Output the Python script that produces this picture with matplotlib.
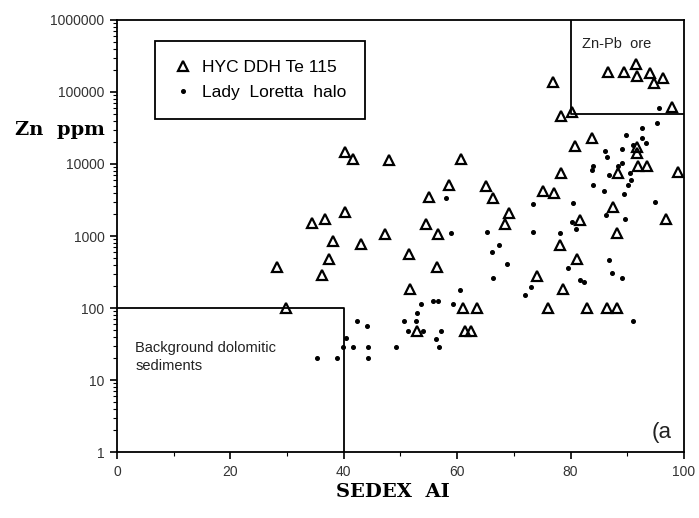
import matplotlib
matplotlib.use('Agg')
import matplotlib.pyplot as plt
from matplotlib.ticker import FixedLocator, LogLocator, NullFormatter

# HYC DDH Te 115 (open triangles)
hyc_ai = [28.2, 29.8, 34.4, 36.7, 36.2, 37.4, 38.1, 40.2, 40.2, 41.6,
          43.0, 47.3, 48.0, 51.5, 51.7, 52.9, 54.5, 55.0, 56.6, 56.4,
          58.6, 60.7, 61.0, 61.4, 62.4, 63.5, 65.1, 66.3, 69.1, 68.4,
          74.1, 75.1, 77.1, 76.0, 76.9, 78.3, 80.2, 80.8, 83.8, 78.3,
          78.7, 78.2, 81.1, 81.7, 82.9, 86.4, 88.2, 87.5, 88.2, 96.8,
          98.9, 86.6, 89.4, 91.5, 91.7, 94.0, 94.7, 96.3, 97.9, 91.7,
          91.7, 91.9, 93.5, 88.4]
hyc_zn = [370, 100, 1520, 1720, 290, 480, 850, 2150, 14700, 11700,
          775, 1070, 11400, 560, 184, 48, 1470, 3480, 1070, 371,
          5100, 11700, 100, 48, 48, 100, 4950, 3400, 2080, 1470,
          278, 4200, 3950, 100, 138000, 47000, 52000, 17800, 23000, 7500,
          184, 750, 480, 1670, 100, 100, 100, 2530, 1100, 1720,
          7750, 190000, 190000, 245000, 167000, 184000, 133000, 157000, 62000, 17200,
          14000, 9400, 9400, 7500]

# Lady Loretta halo (dots)
ll_ai = [42.3, 44.1, 40.4, 39.9, 41.6, 44.3, 49.2, 35.3, 38.8, 44.3,
         50.6, 51.3, 52.7, 54.0, 53.6, 55.7, 56.6, 59.3, 52.9, 56.3,
         56.8, 57.1, 60.5, 66.1, 68.8, 66.3, 73.0, 72.0, 79.5, 81.7,
         82.4, 86.8, 87.3, 89.1, 91.0, 58.0, 58.9, 65.3, 67.4, 73.4,
         73.4, 78.1, 80.4, 80.2, 81.0, 83.9, 85.9, 89.4, 90.1, 86.2,
         89.6, 94.9, 95.6, 92.6, 95.2, 89.8, 92.6, 93.3, 86.1, 86.4,
         89.1, 91.0, 89.1, 88.4, 84.0, 83.8, 86.8, 90.5, 90.7]
ll_zn = [66, 56, 38, 29, 29, 29, 29, 20, 20, 20,
         66, 48, 66, 48, 114, 125, 125, 114, 85, 37,
         29, 48, 178, 590, 410, 261, 196, 152, 360, 245,
         230, 464, 306, 261, 66, 3370, 1100, 1140, 750, 2780,
         1140, 1100, 2870, 1560, 1250, 5100, 4200, 3800, 5100, 1960,
         1720, 3000, 60000, 31600, 37000, 25300, 23000, 19600, 15200, 12500,
         16200, 18400, 10300, 9400, 9400, 8250, 7000, 7500, 6000]

# field boundaries
bg_x = [0, 40, 40]
bg_y = [100, 100, 1]
ore_x = [80, 80, 100]
ore_y = [1000000, 50000, 50000]

y_ticks = [1, 10, 100, 1000, 10000, 100000, 1000000]
x_ticks = [0, 20, 40, 60, 80, 100]

fig = plt.figure(figsize=(6.99, 5.18), dpi=100)
ax = fig.add_axes([0.1674, 0.1274, 0.8111, 0.834])

ax.plot(bg_x, bg_y, color='black', lw=1.3, zorder=2)
ax.plot(ore_x, ore_y, color='black', lw=1.3, zorder=2)

ax.plot(hyc_ai, hyc_zn, linestyle='none', marker='^', markersize=7,
        markerfacecolor='none', markeredgecolor='black', markeredgewidth=1.6,
        label='HYC DDH Te 115', zorder=3)
ax.plot(ll_ai, ll_zn, linestyle='none', marker='o', markersize=2.6,
        color='black', label='Lady  Loretta  halo', zorder=3)

ax.set_yscale('log')
ax.set_xlim(0, 100)
ax.set_ylim(1, 1000000)
ax.xaxis.set_major_locator(FixedLocator(x_ticks))
ax.xaxis.set_minor_locator(FixedLocator(list(range(0, 101, 10))))
ax.yaxis.set_major_locator(FixedLocator(y_ticks))
ax.yaxis.set_minor_locator(LogLocator(base=10, subs=range(2, 10)))
ax.yaxis.set_minor_formatter(NullFormatter())
ax.set_yticklabels([str(v) for v in y_ticks])
ax.set_xticklabels([str(v) for v in x_ticks])

for lbl in ax.get_xticklabels() + ax.get_yticklabels():
    lbl.set_fontfamily('Liberation Sans')
    lbl.set_fontsize(10)
    lbl.set_color('#333333')

ax.tick_params(axis='both', which='major', direction='out', length=5, width=1.2, pad=4)
ax.tick_params(axis='both', which='minor', direction='out', length=3, width=0.8)
for s in ax.spines.values():
    s.set_linewidth(1.3)

ax.text(-0.1005, 0.745, 'Zn  ppm', transform=ax.transAxes, ha='center', va='center',
        fontfamily='DejaVu Serif', fontweight='bold', fontsize=14)
ax.text(0.487, -0.0926, 'SEDEX  AI', transform=ax.transAxes, ha='center', va='center',
        fontfamily='DejaVu Serif', fontweight='bold', fontsize=14)

ax.text(0.82, 0.944, 'Zn-Pb  ore', transform=ax.transAxes, ha='left', va='center',
        fontfamily='Liberation Sans', fontsize=10.5, color='#222222')
ax.text(0.032, 0.22, 'Background dolomitic\nsediments', transform=ax.transAxes,
        ha='left', va='center', fontfamily='Liberation Sans', fontsize=10.5,
        color='#222222', linespacing=1.3)
ax.text(0.978, 0.046, '(a', transform=ax.transAxes, ha='right', va='center',
        fontfamily='Liberation Sans', fontsize=16, color='#222222')

leg = ax.legend(loc='upper left', bbox_to_anchor=(0.067, 0.951), borderaxespad=0,
                frameon=True, fancybox=False, edgecolor='black', framealpha=1,
                prop={'family': 'Liberation Sans', 'size': 12.5},
                handletextpad=0.6, borderpad=1.1, labelspacing=0.55, handlelength=1.0)
leg.get_frame().set_linewidth(1.3)

fig.savefig('out.png', dpi=100)
